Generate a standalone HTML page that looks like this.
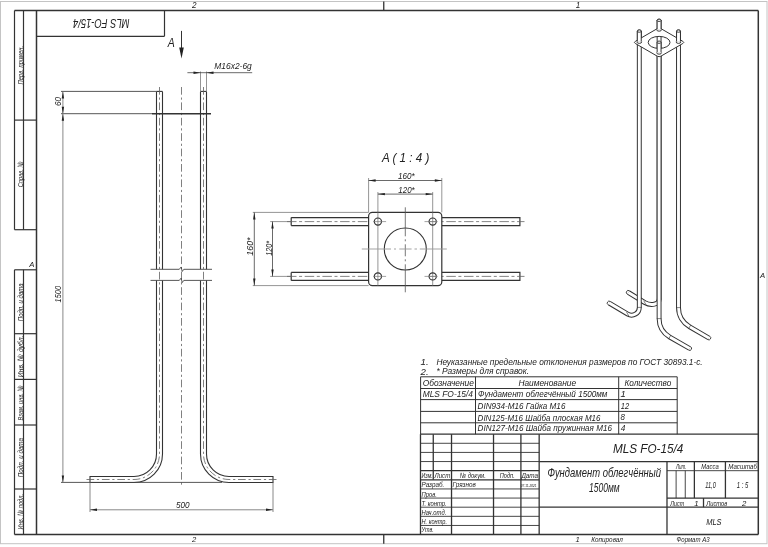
<!DOCTYPE html><html><head><meta charset="utf-8"><style>html,body{margin:0;padding:0;background:#fff;width:768px;height:547px;overflow:hidden}svg{display:block;will-change:transform}text{font-family:"Liberation Sans",sans-serif;font-style:italic}</style></head><body>
<svg width="768" height="547" viewBox="0 0 768 547">
<rect x="0" y="0" width="768" height="547" fill="#fff"/>
<rect x="0.5" y="1.5" width="766.5" height="542.2" fill="none" stroke="#c4c4c4" stroke-width="1"/>
<line x1="383.75" y1="1.5" x2="383.75" y2="10.5" stroke="#333333" stroke-width="1.3" />
<line x1="383.75" y1="534.6" x2="383.75" y2="543.7" stroke="#333333" stroke-width="1.3" />
<text x="194.2" y="8.2" font-size="8.14" text-anchor="middle" fill="#222" >2</text>
<text x="578" y="8.2" font-size="8.14" text-anchor="middle" fill="#222" >1</text>
<text x="194.2" y="542.2" font-size="7.7" text-anchor="middle" fill="#222" >2</text>
<text x="577.6" y="542.2" font-size="7.7" text-anchor="middle" fill="#222" >1</text>
<text x="31.8" y="266.7" font-size="7.7" text-anchor="middle" fill="#222" >A</text>
<text x="762.6" y="278.4" font-size="7.7" text-anchor="middle" fill="#222" >A</text>
<line x1="14.5" y1="10.5" x2="758.3" y2="10.5" stroke="#333333" stroke-width="1.5" />
<line x1="758.3" y1="10.5" x2="758.3" y2="534.6" stroke="#333333" stroke-width="1.5" />
<line x1="14.5" y1="534.6" x2="758.3" y2="534.6" stroke="#333333" stroke-width="1.5" />
<line x1="36.5" y1="10.5" x2="36.5" y2="534.6" stroke="#333333" stroke-width="1.5" />
<line x1="14.5" y1="10.5" x2="14.5" y2="229.7" stroke="#333333" stroke-width="1.2" />
<line x1="23.5" y1="10.5" x2="23.5" y2="229.7" stroke="#333333" stroke-width="1.2" />
<line x1="14.5" y1="120.1" x2="36.5" y2="120.1" stroke="#333333" stroke-width="1.2" />
<line x1="14.5" y1="229.7" x2="36.5" y2="229.7" stroke="#333333" stroke-width="1.2" />
<line x1="14.5" y1="269.8" x2="14.5" y2="534.6" stroke="#333333" stroke-width="1.2" />
<line x1="23.5" y1="269.8" x2="23.5" y2="534.6" stroke="#333333" stroke-width="1.2" />
<line x1="14.5" y1="269.8" x2="36.5" y2="269.8" stroke="#333333" stroke-width="1.2" />
<line x1="14.5" y1="333.7" x2="36.5" y2="333.7" stroke="#333333" stroke-width="1.2" />
<line x1="14.5" y1="379.4" x2="36.5" y2="379.4" stroke="#333333" stroke-width="1.2" />
<line x1="14.5" y1="425.0" x2="36.5" y2="425.0" stroke="#333333" stroke-width="1.2" />
<line x1="14.5" y1="489.0" x2="36.5" y2="489.0" stroke="#333333" stroke-width="1.2" />
<line x1="36.5" y1="36.3" x2="164.5" y2="36.3" stroke="#333333" stroke-width="1.2" />
<line x1="164.5" y1="10.5" x2="164.5" y2="36.3" stroke="#333333" stroke-width="1.2" />
<text x="101.3" y="18.9" font-size="13.2" text-anchor="middle" fill="#222" textLength="56.4" lengthAdjust="spacingAndGlyphs" transform="rotate(180 101.3 18.9)" >MLS FO-15/4</text>
<text x="22.6" y="65.15" font-size="8.0" text-anchor="middle" fill="#222" textLength="38.50000000000001" lengthAdjust="spacingAndGlyphs" transform="rotate(-90 22.6 65.15)">Перв. примен.</text>
<text x="22.6" y="174.3" font-size="8.0" text-anchor="middle" fill="#222" textLength="26.0" lengthAdjust="spacingAndGlyphs" transform="rotate(-90 22.6 174.3)">Справ. №</text>
<text x="22.6" y="302.29999999999995" font-size="8.0" text-anchor="middle" fill="#222" textLength="37.80000000000001" lengthAdjust="spacingAndGlyphs" transform="rotate(-90 22.6 302.29999999999995)">Подп. и дата</text>
<text x="22.6" y="356.35" font-size="8.0" text-anchor="middle" fill="#222" textLength="41.69999999999999" lengthAdjust="spacingAndGlyphs" transform="rotate(-90 22.6 356.35)">Инв. № дубл.</text>
<text x="22.6" y="402.9" font-size="8.0" text-anchor="middle" fill="#222" textLength="35.19999999999999" lengthAdjust="spacingAndGlyphs" transform="rotate(-90 22.6 402.9)">Взам. инв. №</text>
<text x="22.6" y="457.6" font-size="8.0" text-anchor="middle" fill="#222" textLength="39.19999999999999" lengthAdjust="spacingAndGlyphs" transform="rotate(-90 22.6 457.6)">Подп. и дата</text>
<text x="22.6" y="511.65" font-size="8.0" text-anchor="middle" fill="#222" textLength="35.5" lengthAdjust="spacingAndGlyphs" transform="rotate(-90 22.6 511.65)">Инв. № подл.</text>
<path d="M156.5,91.4 H162.5" stroke="#333333" stroke-width="1.1" fill="none" />
<path d="M156.5,91.4 V269.3 M162.5,91.4 V269.3" stroke="#333333" stroke-width="1.1" fill="none" />
<path d="M162.5,280.4 V454 A28.5,28.5 0 0 1 134,482.5 H90 V476.5 H134 A22.5,22.5 0 0 0 156.5,454 V280.4" stroke="#333333" stroke-width="1.1" fill="none" />
<path d="M200.5,91.4 H206.5" stroke="#333333" stroke-width="1.1" fill="none" />
<path d="M200.5,91.4 V269.3 M206.5,91.4 V269.3" stroke="#333333" stroke-width="1.1" fill="none" />
<path d="M200.5,280.4 V454 A28.5,28.5 0 0 0 229,482.5 H273 V476.5 H229 A22.5,22.5 0 0 1 206.5,454 V280.4" stroke="#333333" stroke-width="1.1" fill="none" />
<path d="M159.5,87 V454 A25.5,25.5 0 0 1 134,479.5 H85.5" stroke="#5f5f5f" stroke-width="0.8" fill="none" stroke-dasharray="7.7 2.8 2.2 2.7"/>
<path d="M203.5,87 V454 A25.5,25.5 0 0 0 229,479.5 H277.5" stroke="#5f5f5f" stroke-width="0.8" fill="none" stroke-dasharray="7.7 2.8 2.2 2.7"/>
<path d="M181.5,87 V487" stroke="#5f5f5f" stroke-width="0.8" fill="none" stroke-dasharray="7.7 2.8 2.2 2.7"/>
<line x1="152" y1="113.7" x2="211" y2="113.7" stroke="#333333" stroke-width="1.6" />
<path d="M150.5,269.3 H179.3 L181.2,267 L182.2,271.5 L183.8,269.3 H212" stroke="#444444" stroke-width="0.9" fill="none" />
<path d="M150.5,280.4 H179.3 L181.2,278.1 L182.2,282.6 L183.8,280.4 H212" stroke="#444444" stroke-width="0.9" fill="none" />
<line x1="61" y1="91.4" x2="156.5" y2="91.4" stroke="#444444" stroke-width="0.9" />
<line x1="61" y1="113.7" x2="152" y2="113.7" stroke="#444444" stroke-width="0.9" />
<line x1="61" y1="482.4" x2="222" y2="482.4" stroke="#444444" stroke-width="0.9" />
<line x1="62.9" y1="91.4" x2="62.9" y2="482.4" stroke="#7a7a7a" stroke-width="0.9" />
<path d="M62.90,91.40 L64.10,98.40 L61.70,98.40Z" fill="#222" stroke="none"/>
<path d="M62.90,113.70 L61.70,106.70 L64.10,106.70Z" fill="#222" stroke="none"/>
<path d="M62.90,113.70 L64.10,120.70 L61.70,120.70Z" fill="#222" stroke="none"/>
<path d="M62.90,482.40 L61.70,475.40 L64.10,475.40Z" fill="#222" stroke="none"/>
<text x="61.4" y="101.5" font-size="9.02" text-anchor="middle" fill="#222" textLength="9" lengthAdjust="spacingAndGlyphs" transform="rotate(-90 61.4 101.5)" >60</text>
<text x="61.2" y="294.2" font-size="9.68" text-anchor="middle" fill="#222" textLength="16.4" lengthAdjust="spacingAndGlyphs" transform="rotate(-90 61.2 294.2)" >1500</text>
<line x1="90" y1="482.5" x2="90" y2="512" stroke="#7a7a7a" stroke-width="0.9" />
<line x1="273" y1="482.5" x2="273" y2="512" stroke="#7a7a7a" stroke-width="0.9" />
<line x1="90" y1="509.8" x2="273" y2="509.8" stroke="#7a7a7a" stroke-width="0.9" />
<path d="M90.00,509.80 L97.00,508.60 L97.00,511.00Z" fill="#222" stroke="none"/>
<path d="M273.00,509.80 L266.00,511.00 L266.00,508.60Z" fill="#222" stroke="none"/>
<text x="182.7" y="508.3" font-size="9.24" text-anchor="middle" fill="#222" textLength="13.6" lengthAdjust="spacingAndGlyphs" >500</text>
<line x1="200.5" y1="91.4" x2="200.5" y2="71.5" stroke="#7a7a7a" stroke-width="0.8" />
<line x1="206.5" y1="91.4" x2="206.5" y2="71.5" stroke="#7a7a7a" stroke-width="0.8" />
<line x1="187.4" y1="72.7" x2="252.2" y2="72.7" stroke="#444444" stroke-width="0.8" />
<path d="M200.50,72.70 L193.50,73.90 L193.50,71.50Z" fill="#222" stroke="none"/>
<path d="M206.50,72.70 L213.50,71.50 L213.50,73.90Z" fill="#222" stroke="none"/>
<text x="214.3" y="69.2" font-size="9.9" text-anchor="start" fill="#222" textLength="37.5" lengthAdjust="spacingAndGlyphs" >M16x2-6g</text>
<line x1="181.5" y1="30.9" x2="181.5" y2="50" stroke="#333333" stroke-width="1.0" />
<path d="M181.50,58.60 L179.20,47.60 L183.80,47.60Z" fill="#222" stroke="none"/>
<text x="171.2" y="47" font-size="12.65" text-anchor="middle" fill="#222" textLength="7" lengthAdjust="spacingAndGlyphs" >A</text>
<text x="405.6" y="162.2" font-size="12.65" text-anchor="middle" fill="#222" textLength="47.4" lengthAdjust="spacingAndGlyphs" >A ( 1 : 4 )</text>
<line x1="368.6" y1="178" x2="368.6" y2="212.4" stroke="#7a7a7a" stroke-width="0.8" />
<line x1="441.8" y1="178" x2="441.8" y2="212.4" stroke="#7a7a7a" stroke-width="0.8" />
<line x1="377.9" y1="192" x2="377.9" y2="285.6" stroke="#7a7a7a" stroke-width="0.8" />
<line x1="432.7" y1="192" x2="432.7" y2="285.6" stroke="#7a7a7a" stroke-width="0.8" />
<line x1="368.6" y1="180.5" x2="441.8" y2="180.5" stroke="#444444" stroke-width="0.8" />
<path d="M368.60,180.50 L375.60,179.30 L375.60,181.70Z" fill="#222" stroke="none"/>
<path d="M441.80,180.50 L434.80,181.70 L434.80,179.30Z" fill="#222" stroke="none"/>
<text x="406.3" y="179.2" font-size="9.02" text-anchor="middle" fill="#222" textLength="16.7" lengthAdjust="spacingAndGlyphs" >160*</text>
<line x1="377.9" y1="194.1" x2="432.7" y2="194.1" stroke="#444444" stroke-width="0.8" />
<path d="M377.90,194.10 L384.90,192.90 L384.90,195.30Z" fill="#222" stroke="none"/>
<path d="M432.70,194.10 L425.70,195.30 L425.70,192.90Z" fill="#222" stroke="none"/>
<text x="406.5" y="192.9" font-size="9.02" text-anchor="middle" fill="#222" textLength="16.4" lengthAdjust="spacingAndGlyphs" >120*</text>
<line x1="252.8" y1="212.4" x2="368.6" y2="212.4" stroke="#7a7a7a" stroke-width="0.8" />
<line x1="252.8" y1="285.6" x2="368.6" y2="285.6" stroke="#7a7a7a" stroke-width="0.8" />
<line x1="254.3" y1="212.4" x2="254.3" y2="285.6" stroke="#444444" stroke-width="0.8" />
<path d="M254.30,212.40 L255.50,219.40 L253.10,219.40Z" fill="#222" stroke="none"/>
<path d="M254.30,285.60 L253.10,278.60 L255.50,278.60Z" fill="#222" stroke="none"/>
<text x="253.3" y="246.6" font-size="9.02" text-anchor="middle" fill="#222" textLength="18.3" lengthAdjust="spacingAndGlyphs" transform="rotate(-90 253.3 246.6)" >160*</text>
<line x1="270.2" y1="221.6" x2="291.2" y2="221.6" stroke="#7a7a7a" stroke-width="0.8" />
<line x1="270.2" y1="276.4" x2="291.2" y2="276.4" stroke="#7a7a7a" stroke-width="0.8" />
<line x1="272.5" y1="221.6" x2="272.5" y2="276.4" stroke="#444444" stroke-width="0.8" />
<path d="M272.50,221.60 L273.70,228.60 L271.30,228.60Z" fill="#222" stroke="none"/>
<path d="M272.50,276.40 L271.30,269.40 L273.70,269.40Z" fill="#222" stroke="none"/>
<text x="271.6" y="248.4" font-size="9.02" text-anchor="middle" fill="#222" textLength="14.8" lengthAdjust="spacingAndGlyphs" transform="rotate(-90 271.6 248.4)" >120*</text>
<path d="M291.2,217.6 H368.6 M291.2,225.6 H368.6 M291.2,217.6 V225.6" stroke="#333333" stroke-width="1.2" fill="none" />
<path d="M441.8,217.6 H519.9 V225.6 H441.8" stroke="#333333" stroke-width="1.2" fill="none" />
<path d="M287,221.6 H524.5" stroke="#666" stroke-width="0.8" fill="none" stroke-dasharray="9.5 2.6 3 2.6"/>
<path d="M291.2,272.4 H368.6 M291.2,280.4 H368.6 M291.2,272.4 V280.4" stroke="#333333" stroke-width="1.2" fill="none" />
<path d="M441.8,272.4 H519.9 V280.4 H441.8" stroke="#333333" stroke-width="1.2" fill="none" />
<path d="M287,276.4 H524.5" stroke="#666" stroke-width="0.8" fill="none" stroke-dasharray="9.5 2.6 3 2.6"/>
<rect x="368.6" y="212.4" width="73.19999999999999" height="73.20000000000002" rx="3.8" fill="#fff" stroke="#333333" stroke-width="1.2"/>
<line x1="377.9" y1="212.4" x2="377.9" y2="285.6" stroke="#7a7a7a" stroke-width="0.8" />
<line x1="432.7" y1="212.4" x2="432.7" y2="285.6" stroke="#7a7a7a" stroke-width="0.8" />
<circle cx="377.9" cy="221.6" r="3.6" fill="none" stroke="#333333" stroke-width="1.2"/>
<line x1="373.2" y1="221.6" x2="386.09999999999997" y2="221.6" stroke="#7a7a7a" stroke-width="0.7" />
<circle cx="377.9" cy="276.4" r="3.6" fill="none" stroke="#333333" stroke-width="1.2"/>
<line x1="373.2" y1="276.4" x2="386.09999999999997" y2="276.4" stroke="#7a7a7a" stroke-width="0.7" />
<circle cx="432.7" cy="221.6" r="3.6" fill="none" stroke="#333333" stroke-width="1.2"/>
<line x1="428.0" y1="221.6" x2="437.4" y2="221.6" stroke="#7a7a7a" stroke-width="0.7" />
<line x1="424.5" y1="221.6" x2="437.4" y2="221.6" stroke="#7a7a7a" stroke-width="0.7" />
<circle cx="432.7" cy="276.4" r="3.6" fill="none" stroke="#333333" stroke-width="1.2"/>
<line x1="428.0" y1="276.4" x2="437.4" y2="276.4" stroke="#7a7a7a" stroke-width="0.7" />
<line x1="424.5" y1="276.4" x2="437.4" y2="276.4" stroke="#7a7a7a" stroke-width="0.7" />
<circle cx="405.3" cy="249" r="21" fill="none" stroke="#333333" stroke-width="1.1"/>
<path d="M405.3,207.3 V292.3" stroke="#555" stroke-width="0.8" fill="none" stroke-dasharray="29 3 2 3 12 3 2 3 29"/>
<path d="M361.8,249 H446.8" stroke="#999" stroke-width="0.9" fill="none" stroke-dasharray="29.2 3 2 3.3 12.3 2.9 2.5 2.8 27"/>
<path d="M659.1,20.3 V299.2 C659.10,304.39 651.15,306.29 644.80,302.60 L628.30,292.40" stroke="#333" stroke-width="4.9" fill="none" stroke-linecap="butt"/>
<path d="M659.1,20.3 V299.2 C659.10,304.39 651.15,306.29 644.80,302.60 L628.30,292.40" stroke="#fff" stroke-width="2.9" fill="none" stroke-linecap="butt"/>
<path d="M629.33,290.74 A1.95,1.95 0 0 0 627.27,294.06" stroke="#333" stroke-width="0.95" fill="#fff"/>
<line x1="656.80" y1="299.20" x2="661.40" y2="299.20" stroke="#333" stroke-width="0.6"/>
<line x1="643.65" y1="300.61" x2="645.95" y2="304.59" stroke="#333" stroke-width="0.6"/>
<ellipse cx="659.1" cy="20.3" rx="1.95" ry="1.15" fill="#fff" stroke="#333" stroke-width="0.95"/>
<path d="M639.3,31.1 V307.4 C639.30,313.35 632.85,317.07 627.70,314.10 L609.20,303.10" stroke="#333" stroke-width="4.9" fill="none" stroke-linecap="butt"/>
<path d="M639.3,31.1 V307.4 C639.30,313.35 632.85,317.07 627.70,314.10 L609.20,303.10" stroke="#fff" stroke-width="2.9" fill="none" stroke-linecap="butt"/>
<path d="M610.20,301.42 A1.95,1.95 0 0 0 608.20,304.78" stroke="#333" stroke-width="0.95" fill="#fff"/>
<line x1="637.00" y1="307.40" x2="641.60" y2="307.40" stroke="#333" stroke-width="0.6"/>
<line x1="626.55" y1="312.11" x2="628.85" y2="316.09" stroke="#333" stroke-width="0.6"/>
<ellipse cx="639.3" cy="31.1" rx="1.95" ry="1.15" fill="#fff" stroke="#333" stroke-width="0.95"/>
<path d="M678.5,31.1 V307.6 C678.50,315.59 682.77,322.90 689.70,326.80 L708.90,338.00" stroke="#333" stroke-width="4.9" fill="none" stroke-linecap="butt"/>
<path d="M678.5,31.1 V307.6 C678.50,315.59 682.77,322.90 689.70,326.80 L708.90,338.00" stroke="#fff" stroke-width="2.9" fill="none" stroke-linecap="butt"/>
<path d="M707.92,339.68 A1.95,1.95 0 0 0 709.88,336.32" stroke="#333" stroke-width="0.95" fill="#fff"/>
<line x1="676.20" y1="307.60" x2="680.80" y2="307.60" stroke="#333" stroke-width="0.6"/>
<line x1="688.55" y1="328.79" x2="690.85" y2="324.81" stroke="#333" stroke-width="0.6"/>
<ellipse cx="678.5" cy="31.1" rx="1.95" ry="1.15" fill="#fff" stroke="#333" stroke-width="0.95"/>
<path d="M659.1,50.0 V318.6 C659.10,326.21 663.16,333.24 669.75,337.05 L689.70,348.50" stroke="#333" stroke-width="4.9" fill="none" stroke-linecap="butt"/>
<path d="M659.1,50.0 V318.6 C659.10,326.21 663.16,333.24 669.75,337.05 L689.70,348.50" stroke="#fff" stroke-width="2.9" fill="none" stroke-linecap="butt"/>
<path d="M688.73,350.19 A1.95,1.95 0 0 0 690.67,346.81" stroke="#333" stroke-width="0.95" fill="#fff"/>
<line x1="656.80" y1="318.60" x2="661.40" y2="318.60" stroke="#333" stroke-width="0.6"/>
<line x1="668.60" y1="339.04" x2="670.90" y2="335.06" stroke="#333" stroke-width="0.6"/>
<ellipse cx="659.1" cy="50.0" rx="1.95" ry="1.15" fill="#fff" stroke="#333" stroke-width="0.95"/>
<path fill-rule="evenodd" d="M635.4,41.3 L657.3,28.6 Q659.1,27.6 660.9,28.6 L682.8,41.3 Q684.8,42.4 682.8,43.5 L660.9,56.2 Q659.1,57.2 657.3,56.2 L635.4,43.5 Q633.4,42.4 635.4,41.3 Z M648.2,42.4 A10.9,6.0 0 1 0 670.0,42.4 A10.9,6.0 0 1 0 648.2,42.4 Z" fill="#fff" stroke="#333" stroke-width="1.0"/>
<path d="M639.3,31.1 V41.8" stroke="#333" stroke-width="4.9" fill="none"/>
<path d="M636.85,41.8 A2.00,1.3 0 0 0 641.75,41.8" stroke="#333" stroke-width="0.95" fill="#fff"/>
<path d="M639.3,31.1 V41.8" stroke="#fff" stroke-width="2.9" fill="none"/>
<ellipse cx="639.3" cy="31.1" rx="1.95" ry="1.15" fill="#fff" stroke="#333" stroke-width="0.95"/>
<path d="M678.5,31.1 V41.8" stroke="#333" stroke-width="4.9" fill="none"/>
<path d="M676.05,41.8 A2.00,1.3 0 0 0 680.95,41.8" stroke="#333" stroke-width="0.95" fill="#fff"/>
<path d="M678.5,31.1 V41.8" stroke="#fff" stroke-width="2.9" fill="none"/>
<ellipse cx="678.5" cy="31.1" rx="1.95" ry="1.15" fill="#fff" stroke="#333" stroke-width="0.95"/>
<path d="M659.1,20.3 V29.6" stroke="#333" stroke-width="4.9" fill="none"/>
<path d="M656.65,29.6 A2.00,1.3 0 0 0 661.55,29.6" stroke="#333" stroke-width="0.95" fill="#fff"/>
<path d="M659.1,20.3 V29.6" stroke="#fff" stroke-width="2.9" fill="none"/>
<ellipse cx="659.1" cy="20.3" rx="1.95" ry="1.15" fill="#fff" stroke="#333" stroke-width="0.95"/>
<path d="M659.1,42.2 V52.6" stroke="#333" stroke-width="4.9" fill="none"/>
<path d="M656.65,52.6 A2.00,1.3 0 0 0 661.55,52.6" stroke="#333" stroke-width="0.95" fill="#fff"/>
<path d="M659.1,42.2 V52.6" stroke="#fff" stroke-width="2.9" fill="none"/>
<ellipse cx="659.1" cy="42.2" rx="1.95" ry="1.15" fill="#fff" stroke="#333" stroke-width="0.95"/>
<text x="420.6" y="365.0" font-size="9.68" text-anchor="start" fill="#222" >1.</text>
<text x="436.4" y="365.1" font-size="9.68" text-anchor="start" fill="#222" textLength="266.3" lengthAdjust="spacingAndGlyphs" >Неуказанные предельные отклонения размеров по ГОСТ 30893.1-с.</text>
<text x="420.6" y="374.5" font-size="9.68" text-anchor="start" fill="#222" >2.</text>
<text x="436.4" y="374.4" font-size="9.68" text-anchor="start" fill="#222" textLength="92.7" lengthAdjust="spacingAndGlyphs" >* Размеры для справок.</text>
<line x1="420.6" y1="376.8" x2="677.2" y2="376.8" stroke="#333333" stroke-width="1.0" />
<line x1="420.6" y1="388.5" x2="677.2" y2="388.5" stroke="#333333" stroke-width="1.0" />
<line x1="420.6" y1="399.6" x2="677.2" y2="399.6" stroke="#333333" stroke-width="1.0" />
<line x1="420.6" y1="411.4" x2="677.2" y2="411.4" stroke="#333333" stroke-width="1.0" />
<line x1="420.6" y1="422.8" x2="677.2" y2="422.8" stroke="#333333" stroke-width="1.0" />
<line x1="420.6" y1="376.8" x2="420.6" y2="434.2" stroke="#333333" stroke-width="1.0" />
<line x1="475.5" y1="376.8" x2="475.5" y2="434.2" stroke="#333333" stroke-width="1.0" />
<line x1="618.7" y1="376.8" x2="618.7" y2="434.2" stroke="#333333" stroke-width="1.0" />
<line x1="677.2" y1="376.8" x2="677.2" y2="434.2" stroke="#333333" stroke-width="1.0" />
<text x="422.7" y="386.0" font-size="9.46" text-anchor="start" fill="#222" textLength="51.2" lengthAdjust="spacingAndGlyphs" >Обозначение</text>
<text x="518.4" y="386.0" font-size="9.46" text-anchor="start" fill="#222" textLength="57.7" lengthAdjust="spacingAndGlyphs" >Наименование</text>
<text x="624.4" y="386.0" font-size="9.46" text-anchor="start" fill="#222" textLength="46.9" lengthAdjust="spacingAndGlyphs" >Количество</text>
<text x="422.7" y="397.0" font-size="9.46" text-anchor="start" fill="#222" textLength="50.3" lengthAdjust="spacingAndGlyphs" >MLS FO-15/4</text>
<text x="478.0" y="397.0" font-size="9.46" text-anchor="start" fill="#222" textLength="129.4" lengthAdjust="spacingAndGlyphs" >Фундамент облегчённый 1500мм</text>
<text x="620.6" y="396.9" font-size="9.46" text-anchor="start" fill="#222" >1</text>
<text x="477.6" y="409.1" font-size="9.46" text-anchor="start" fill="#222" textLength="87.8" lengthAdjust="spacingAndGlyphs" >DIN934-M16 Гайка M16</text>
<text x="620.8" y="409.1" font-size="9.46" text-anchor="start" fill="#222" textLength="8.4" lengthAdjust="spacingAndGlyphs" >12</text>
<text x="477.6" y="420.6" font-size="9.46" text-anchor="start" fill="#222" textLength="122.9" lengthAdjust="spacingAndGlyphs" >DIN125-M16 Шайба плоская M16</text>
<text x="620.6" y="420.4" font-size="9.46" text-anchor="start" fill="#222" textLength="4.4" lengthAdjust="spacingAndGlyphs" >8</text>
<text x="477.6" y="430.7" font-size="9.46" text-anchor="start" fill="#222" textLength="134.3" lengthAdjust="spacingAndGlyphs" >DIN127-M16 Шайба пружинная M16</text>
<text x="620.8" y="430.6" font-size="9.46" text-anchor="start" fill="#222" textLength="4.6" lengthAdjust="spacingAndGlyphs" >4</text>
<line x1="420.48" y1="434.16" x2="758.29" y2="434.16" stroke="#333333" stroke-width="1.3" />
<line x1="420.48" y1="434.16" x2="420.48" y2="534.59" stroke="#333333" stroke-width="1.3" />
<line x1="420.48" y1="443.29" x2="539.17" y2="443.29" stroke="#333333" stroke-width="0.9" />
<line x1="420.48" y1="452.42" x2="539.17" y2="452.42" stroke="#333333" stroke-width="0.9" />
<line x1="420.48" y1="461.55" x2="539.17" y2="461.55" stroke="#333333" stroke-width="0.9" />
<line x1="420.48" y1="470.68" x2="539.17" y2="470.68" stroke="#333333" stroke-width="1.3" />
<line x1="420.48" y1="479.81" x2="539.17" y2="479.81" stroke="#333333" stroke-width="1.3" />
<line x1="420.48" y1="488.94" x2="539.17" y2="488.94" stroke="#333333" stroke-width="0.9" />
<line x1="420.48" y1="498.07" x2="539.17" y2="498.07" stroke="#333333" stroke-width="0.9" />
<line x1="420.48" y1="507.2" x2="539.17" y2="507.2" stroke="#333333" stroke-width="0.9" />
<line x1="420.48" y1="516.33" x2="539.17" y2="516.33" stroke="#333333" stroke-width="0.9" />
<line x1="420.48" y1="525.46" x2="539.17" y2="525.46" stroke="#333333" stroke-width="0.9" />
<line x1="433.26" y1="434.16" x2="433.26" y2="479.81" stroke="#333333" stroke-width="1.3" />
<line x1="451.52" y1="434.16" x2="451.52" y2="534.59" stroke="#333333" stroke-width="1.3" />
<line x1="493.52" y1="434.16" x2="493.52" y2="534.59" stroke="#333333" stroke-width="1.3" />
<line x1="520.91" y1="434.16" x2="520.91" y2="534.59" stroke="#333333" stroke-width="1.3" />
<line x1="539.17" y1="434.16" x2="539.17" y2="534.59" stroke="#333333" stroke-width="1.3" />
<line x1="539.17" y1="461.55" x2="758.29" y2="461.55" stroke="#333333" stroke-width="1.3" />
<line x1="539.17" y1="507.2" x2="758.29" y2="507.2" stroke="#333333" stroke-width="1.3" />
<line x1="666.99" y1="461.55" x2="666.99" y2="534.59" stroke="#333333" stroke-width="1.3" />
<line x1="666.99" y1="470.68" x2="758.29" y2="470.68" stroke="#333333" stroke-width="0.9" />
<line x1="666.99" y1="498.07" x2="758.29" y2="498.07" stroke="#333333" stroke-width="1.3" />
<line x1="676.12" y1="470.68" x2="676.12" y2="498.07" stroke="#333333" stroke-width="0.9" />
<line x1="685.25" y1="470.68" x2="685.25" y2="498.07" stroke="#333333" stroke-width="0.9" />
<line x1="694.38" y1="461.55" x2="694.38" y2="498.07" stroke="#333333" stroke-width="1.3" />
<line x1="725.42" y1="461.55" x2="725.42" y2="498.07" stroke="#333333" stroke-width="1.3" />
<line x1="703.51" y1="498.07" x2="703.51" y2="507.2" stroke="#333333" stroke-width="1.3" />
<text x="421.5" y="478.4" font-size="7.81" text-anchor="start" fill="#222" textLength="11.3" lengthAdjust="spacingAndGlyphs" >Изм.</text>
<text x="434.6" y="478.4" font-size="7.81" text-anchor="start" fill="#222" textLength="15.6" lengthAdjust="spacingAndGlyphs" >Лист</text>
<text x="459.8" y="478.4" font-size="7.81" text-anchor="start" fill="#222" textLength="26" lengthAdjust="spacingAndGlyphs" >№ докум.</text>
<text x="499.8" y="478.4" font-size="7.81" text-anchor="start" fill="#222" textLength="14.9" lengthAdjust="spacingAndGlyphs" >Подп.</text>
<text x="521.4" y="478.4" font-size="7.81" text-anchor="start" fill="#222" textLength="16.7" lengthAdjust="spacingAndGlyphs" >Дата</text>
<text x="421.5" y="487.4" font-size="7.81" text-anchor="start" fill="#222" textLength="22.8" lengthAdjust="spacingAndGlyphs" >Разраб.</text>
<text x="452.5" y="487.0" font-size="7.81" text-anchor="start" fill="#222" textLength="23.4" lengthAdjust="spacingAndGlyphs" >Грязнов</text>
<text x="520.8" y="486.6" font-size="3.96" text-anchor="start" fill="#222" textLength="15.8" lengthAdjust="spacingAndGlyphs" >07.11.2021</text>
<text x="421.5" y="496.6" font-size="7.81" text-anchor="start" fill="#222" textLength="15.5" lengthAdjust="spacingAndGlyphs" >Пров.</text>
<text x="421.5" y="505.5" font-size="7.81" text-anchor="start" fill="#222" textLength="25.2" lengthAdjust="spacingAndGlyphs" >Т. контр.</text>
<text x="421.5" y="514.7" font-size="7.81" text-anchor="start" fill="#222" textLength="24.8" lengthAdjust="spacingAndGlyphs" >Нач.отд.</text>
<text x="421.5" y="523.6" font-size="7.81" text-anchor="start" fill="#222" textLength="25.5" lengthAdjust="spacingAndGlyphs" >Н. контр.</text>
<text x="421.5" y="532.4" font-size="7.81" text-anchor="start" fill="#222" textLength="12.3" lengthAdjust="spacingAndGlyphs" >Утв.</text>
<text x="648.1" y="452.9" font-size="12.98" text-anchor="middle" fill="#222" textLength="70.3" lengthAdjust="spacingAndGlyphs" >MLS FO-15/4</text>
<text x="604.2" y="477.4" font-size="12.54" text-anchor="middle" fill="#222" textLength="113.6" lengthAdjust="spacingAndGlyphs" >Фундамент облегчённый</text>
<text x="604.3" y="492.3" font-size="12.54" text-anchor="middle" fill="#222" textLength="30.6" lengthAdjust="spacingAndGlyphs" >1500мм</text>
<text x="681.3" y="468.6" font-size="7.81" text-anchor="middle" fill="#222" textLength="10.5" lengthAdjust="spacingAndGlyphs" >Лит.</text>
<text x="710.0" y="468.6" font-size="7.81" text-anchor="middle" fill="#222" textLength="17.3" lengthAdjust="spacingAndGlyphs" >Масса</text>
<text x="742.6" y="468.6" font-size="7.81" text-anchor="middle" fill="#222" textLength="28.7" lengthAdjust="spacingAndGlyphs" >Масштаб</text>
<text x="710.5" y="488.3" font-size="9.46" text-anchor="middle" fill="#222" textLength="10.5" lengthAdjust="spacingAndGlyphs" >11,0</text>
<text x="742.6" y="488.3" font-size="9.46" text-anchor="middle" fill="#222" textLength="11.5" lengthAdjust="spacingAndGlyphs" >1 : 5</text>
<text x="670.3" y="505.6" font-size="7.81" text-anchor="start" fill="#222" textLength="13.8" lengthAdjust="spacingAndGlyphs" >Лист</text>
<text x="696.3" y="505.6" font-size="7.81" text-anchor="middle" fill="#222" >1</text>
<text x="706.2" y="505.6" font-size="7.81" text-anchor="start" fill="#222" textLength="21.1" lengthAdjust="spacingAndGlyphs" >Листов</text>
<text x="744.2" y="505.6" font-size="7.81" text-anchor="middle" fill="#222" >2</text>
<text x="713.9" y="524.8" font-size="9.46" text-anchor="middle" fill="#222" textLength="15.4" lengthAdjust="spacingAndGlyphs" >MLS</text>
<text x="591.2" y="542.1" font-size="7.48" text-anchor="start" fill="#222" textLength="31.7" lengthAdjust="spacingAndGlyphs" >Копировал</text>
<text x="676.5" y="542.1" font-size="7.48" text-anchor="start" fill="#222" textLength="33.1" lengthAdjust="spacingAndGlyphs" >Формат A3</text>
</svg></body></html>
